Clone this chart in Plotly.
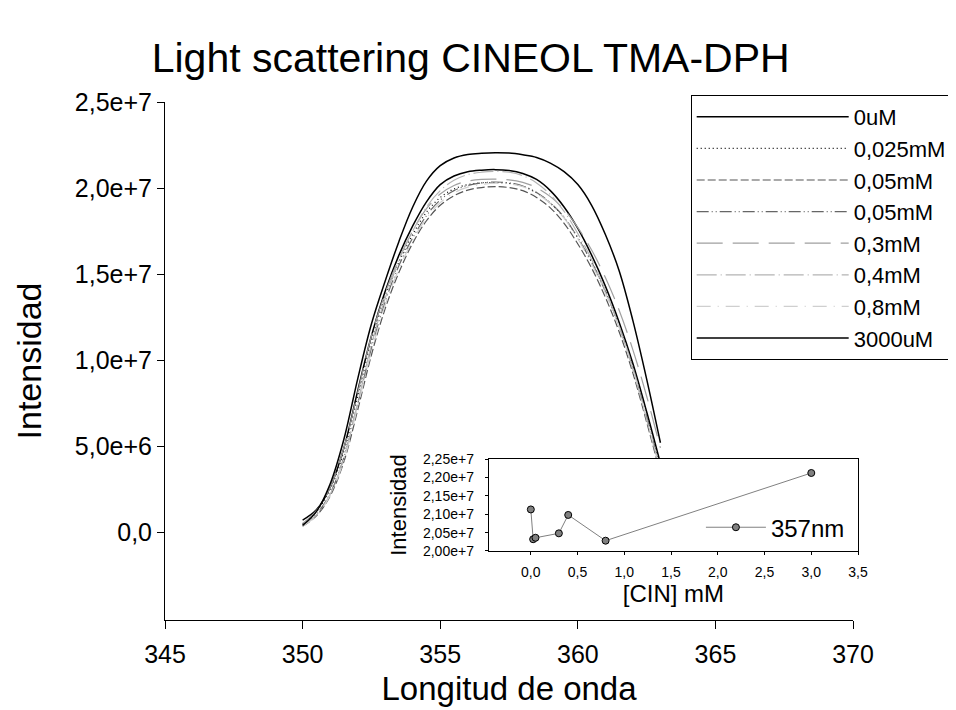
import plotly.graph_objects as go

# longitud de onda (nm) y espectros de light scattering (en unidades de 1e6)
SCALE = 1e6
longitud = [350.0, 350.5, 351.0, 351.5, 352.0, 352.5, 353.0, 353.5, 354.0, 354.5,
            355.0, 355.5, 356.0, 356.5, 357.0, 357.5, 358.0, 358.5, 359.0, 359.5,
            360.0, 360.5, 361.0, 361.5, 362.0, 362.5, 363.0]

int_0uM = [0.7, 1.3, 2.6, 4.9, 8.2, 11.4, 14.0, 16.1, 17.8, 19.2, 20.2, 20.7, 20.95, 21.04,
           21.07, 21.02, 20.85, 20.5, 19.85, 18.9, 17.65, 16.1, 14.3, 12.2, 9.8, 7.0, 4.0]
int_0025mM = [0.5, 1.2, 2.5, 4.7, 7.9, 11.1, 13.7, 15.7, 17.3, 18.6, 19.45, 19.95, 20.2, 20.3,
              20.32, 20.27, 20.1, 19.72, 19.12, 18.28, 17.1, 15.7, 14.0, 12.0, 9.6, 6.7, 3.7]
int_005mM = [0.35, 0.95, 2.1, 4.1, 7.1, 10.3, 13.0, 15.1, 16.8, 18.1, 19.0, 19.55, 19.88, 20.03,
             20.08, 20.03, 19.85, 19.45, 18.85, 17.95, 16.75, 15.35, 13.65, 11.65, 9.25, 6.4, 3.4]
int_005mM_b = [0.4, 1.05, 2.25, 4.35, 7.45, 10.7, 13.4, 15.5, 17.1, 18.4, 19.3, 19.85, 20.15, 20.3,
               20.35, 20.3, 20.12, 19.74, 19.14, 18.3, 17.1, 15.7, 14.0, 12.0, 9.6, 6.7, 3.7]
int_03mM = [0.5, 1.25, 2.6, 4.9, 8.1, 11.4, 13.9, 15.9, 17.5, 18.8, 19.65, 20.15, 20.4, 20.5,
            20.52, 20.48, 20.33, 20.02, 19.5, 18.75, 17.7, 16.4, 14.8, 12.9, 10.6, 7.9, 4.9]
int_04mM = [0.4, 1.0, 2.2, 4.3, 7.5, 10.9, 13.6, 15.8, 17.5, 18.9, 19.85, 20.45, 20.78, 20.92,
            20.97, 20.92, 20.72, 20.3, 19.62, 18.65, 17.35, 15.85, 14.05, 11.95, 9.45, 6.55, 3.55]
int_08mM = [0.35, 0.95, 2.15, 4.2, 7.3, 10.5, 13.2, 15.3, 16.95, 18.25, 19.15, 19.72, 20.05, 20.2,
            20.28, 20.24, 20.08, 19.7, 19.1, 18.25, 17.05, 15.6, 13.9, 11.9, 9.5, 6.6, 3.6]
int_3000uM = [0.4, 1.2, 2.8, 5.4, 8.9, 12.1, 14.6, 16.9, 18.9, 20.4, 21.3, 21.75, 21.95, 22.02,
              22.05, 22.03, 21.93, 21.78, 21.45, 20.95, 20.2, 19.0, 17.3, 15.2, 12.3, 8.9, 5.2]

# inset: intensidad a 357 nm vs concentracion de cineol
conc_mM = [0.0, 0.025, 0.05, 0.3, 0.4, 0.8, 3.0]
int_357 = [2.113e7, 2.032e7, 2.036e7, 2.048e7, 2.098e7, 2.028e7, 2.212e7]

# etiquetas de ejes (coma decimal)
y_ticks = [0, 5e6, 1e7, 1.5e7, 2e7, 2.5e7]
y_ticktext = ["0,0", "5,0e+6", "1,0e+7", "1,5e+7", "2,0e+7", "2,5e+7"]
x_ticks = [345, 350, 355, 360, 365, 370]
ins_x_ticks = [0, 0.5, 1.0, 1.5, 2.0, 2.5, 3.0, 3.5]
ins_x_text = ["0,0", "0,5", "1,0", "1,5", "2,0", "2,5", "3,0", "3,5"]
ins_y_ticks = [2.0e7, 2.05e7, 2.1e7, 2.15e7, 2.2e7, 2.25e7]
ins_y_text = ["2,00e+7", "2,05e+7", "2,10e+7", "2,15e+7", "2,20e+7", "2,25e+7"]

FONT = "Liberation Sans, Arial, sans-serif"

series = [
    ("0uM", int_0uM, "#000000", "solid", 1.5),
    ("0,025mM", int_0025mM, "#000000", "1px,3px", 1.2),
    ("0,05mM", int_005mM, "#555555", "8px,3px", 1.2),
    ("0,05mM", int_005mM_b, "#666666", "12px,3px,1px,3px,1px,3px", 1.2),
    ("0,3mM", int_03mM, "#a0a0a0", "26px,10px", 1.2),
    ("0,4mM", int_04mM, "#b4b4b4", "20px,4px,1px,4px", 1.2),
    ("0,8mM", int_08mM, "#cfcfcf", "14px,7px,1px,7px", 1.2),
    ("3000uM", int_3000uM, "#000000", "solid", 1.5),
]

fig = go.Figure()
for i, (nombre, vals, color, dash, w) in enumerate(series):
    fig.add_trace(go.Scatter(
        x=longitud, y=[v * SCALE for v in vals], mode="lines", name=nombre,
        line=dict(color=color, dash=dash, width=w, shape="spline", smoothing=1.0),
        legendgroup=f"g{i}", xaxis="x", yaxis="y",
    ))

fig.add_trace(go.Scatter(
    x=conc_mM, y=int_357, mode="lines+markers", name="357nm",
    line=dict(color="#808080", width=1),
    marker=dict(color="#808080", size=7, line=dict(color="#000000", width=1)),
    xaxis="x2", yaxis="y2", legend="legend2",
))

fig.update_layout(
    width=956, height=710,
    margin=dict(l=157, r=96, t=80, b=98),
    paper_bgcolor="white", plot_bgcolor="white",
    font=dict(family=FONT, color="black"),
    title=dict(text="Light scattering CINEOL TMA-DPH", x=0.484, xanchor="center",
               y=0.9296, yanchor="middle", font=dict(size=41, family=FONT)),
    xaxis=dict(domain=[0, 0.98862], range=[345, 370], tickvals=x_ticks,
               showline=True, linecolor="black", linewidth=1, showgrid=False, zeroline=False,
               ticks="outside", ticklen=8, tickcolor="black", tickfont=dict(size=25),
               ticklabelstandoff=4,
               title=dict(text="Longitud de onda", font=dict(size=33), standoff=9),
               anchor="y"),
    yaxis=dict(domain=[0, 0.97368], range=[-5.1e6, 2.5e7], tickvals=y_ticks, ticktext=y_ticktext,
               showline=True, linecolor="black", linewidth=1, showgrid=False, zeroline=False,
               ticks="outside", ticklen=7, tickcolor="black", tickfont=dict(size=25),
               title=dict(text="Intensidad", font=dict(size=34), standoff=22),
               anchor="x"),
    xaxis2=dict(domain=[0.46515, 0.99573], range=[-0.45, 3.5], tickvals=ins_x_ticks,
                ticktext=ins_x_text, showline=True, mirror=True, linecolor="black", linewidth=1,
                showgrid=False, zeroline=False, ticks="outside", ticklen=3, tickcolor="black",
                tickfont=dict(size=14), ticklabelstandoff=5,
                title=dict(text="[CIN] mM", font=dict(size=24), standoff=0), anchor="y2"),
    yaxis2=dict(domain=[0.1297, 0.3026], range=[2.0e7, 2.25e7], tickvals=ins_y_ticks,
                ticktext=ins_y_text, showline=True, mirror=True, linecolor="black", linewidth=1,
                showgrid=False, zeroline=False, ticks="outside", ticklen=3, tickcolor="black",
                tickfont=dict(size=14), ticklabelstandoff=8,
                title=dict(text="Intensidad", font=dict(size=22), standoff=10), anchor="x2"),
    legend=dict(x=0.7553, xanchor="left", y=0.98684, yanchor="top",
                bgcolor="white", bordercolor="black", borderwidth=1,
                font=dict(size=22), itemwidth=152, tracegroupgap=0,
                traceorder="normal"),
    legend2=dict(x=0.77, xanchor="left", y=0.1736, yanchor="middle",
                 bgcolor="rgba(0,0,0,0)", borderwidth=0, font=dict(size=24), itemwidth=60),
    showlegend=True,
)

fig.write_html("out.html")
